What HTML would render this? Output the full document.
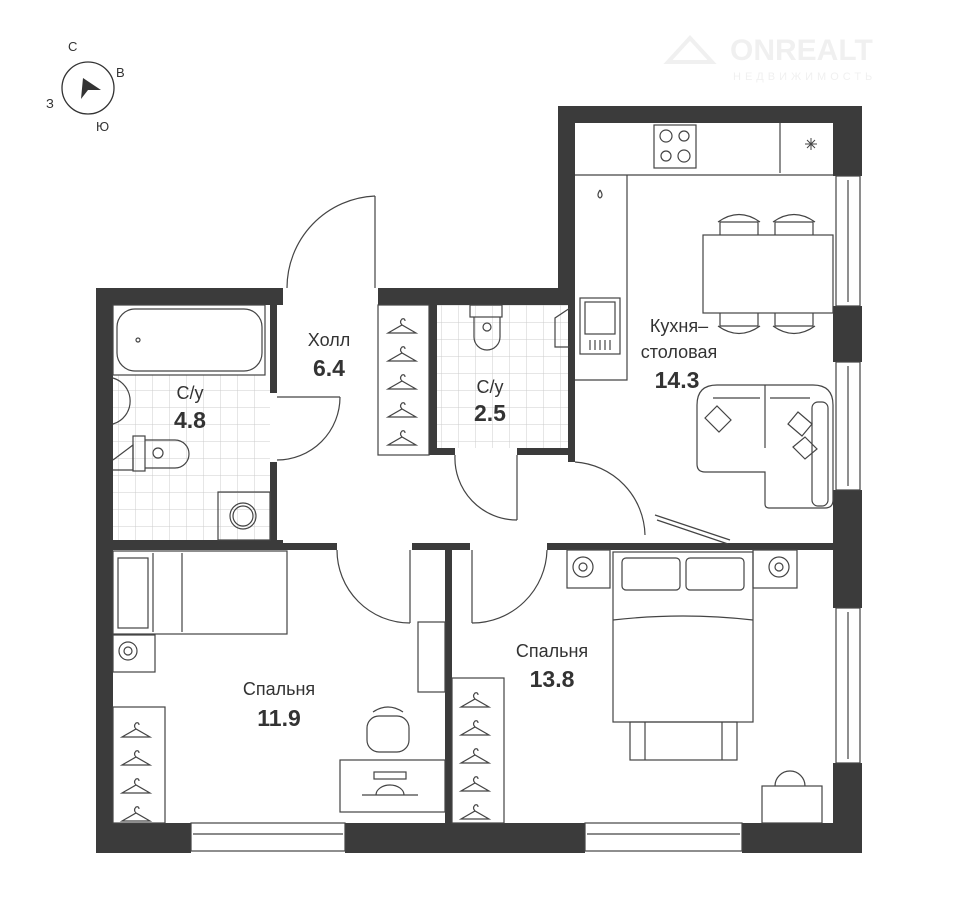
<!DOCTYPE html>
<html><head><meta charset="utf-8"><style>
html,body{margin:0;padding:0;background:#fff;}
svg{display:block;}
text{font-family:"Liberation Sans","DejaVu Sans",sans-serif;fill:#333;}
</style></head><body>
<svg width="960" height="910" viewBox="0 0 960 910" xmlns="http://www.w3.org/2000/svg">
<defs>
<pattern id="tile" width="17" height="17" patternUnits="userSpaceOnUse">
<path d="M17 0V17H0" fill="none" stroke="#ccc" stroke-width="1"/>
</pattern>
<g id="hanger" fill="none" stroke="#444" stroke-width="1.2">
<path d="M0 10 L14 2 L28 10 Z M14 2 q-3 -3 0 -6 q3 -1 3 2"/>
</g>
</defs>

<!-- logo -->
<g opacity="0.14">
<path d="M668 62 L690 38 L712 62 Z" fill="none" stroke="#999" stroke-width="4"/>
<text x="730" y="60" font-size="30" font-weight="bold" style="fill:#999">ONREALT</text>
<text x="733" y="80" font-size="11" letter-spacing="4" style="fill:#999">НЕДВИЖИМОСТЬ</text>
</g>

<!-- compass -->
<circle cx="88" cy="88" r="26" fill="none" stroke="#333" stroke-width="1.3"/>
<polygon points="83,78 101,90 88,90 81,99" fill="#333"/>
<text x="68" y="51" font-size="13">С</text>
<text x="116" y="77" font-size="13">В</text>
<text x="46" y="108" font-size="13">З</text>
<text x="96" y="131" font-size="13">Ю</text>

<!-- tiles -->
<rect x="113" y="375" width="157" height="165" fill="url(#tile)"/>
<rect x="437" y="305" width="133" height="143" fill="url(#tile)"/>

<!-- walls -->
<g fill="#3b3b3b">
<rect x="96" y="288" width="17" height="565"/>
<rect x="96" y="288" width="187" height="17"/>
<rect x="378" y="288" width="195" height="17"/>
<rect x="558" y="106" width="17" height="199"/>
<rect x="558" y="106" width="304" height="17"/>
<rect x="833" y="106" width="29" height="70"/>
<rect x="833" y="306" width="29" height="56"/>
<rect x="833" y="490" width="29" height="118"/>
<rect x="833" y="763" width="29" height="90"/>
<rect x="96" y="823" width="95" height="30"/>
<rect x="345" y="823" width="240" height="30"/>
<rect x="742" y="823" width="120" height="30"/>
<rect x="270" y="305" width="7" height="88"/>
<rect x="270" y="462" width="7" height="86"/>
<rect x="113" y="540" width="170" height="8"/>
<rect x="96" y="543" width="241" height="7"/>
<rect x="412" y="543" width="58" height="7"/>
<rect x="445" y="543" width="7" height="280"/>
<rect x="547" y="543" width="288" height="7"/>
<rect x="429" y="305" width="8" height="150"/>
<rect x="429" y="448" width="26" height="7"/>
<rect x="517" y="448" width="55" height="7"/>
<rect x="568" y="305" width="7" height="157"/>
</g>

<g fill="none" stroke="#444" stroke-width="1.2">
<rect x="836" y="176" width="24" height="130"/><line x1="848" y1="180" x2="848" y2="302"/>
<rect x="836" y="362" width="24" height="128"/><line x1="848" y1="366" x2="848" y2="486"/>
<rect x="836" y="608" width="24" height="155"/><line x1="848" y1="612" x2="848" y2="759"/>
<rect x="191" y="823" width="154" height="28"/><line x1="193" y1="834" x2="343" y2="834"/>
<rect x="585" y="823" width="157" height="28"/><line x1="587" y1="834" x2="740" y2="834"/>

<line x1="375" y1="196" x2="375" y2="288"/><path d="M375 196 A92 92 0 0 0 287 288"/>
<line x1="277" y1="397" x2="340" y2="397"/><path d="M340 397 A63 63 0 0 1 277 460"/>
<line x1="517" y1="455" x2="517" y2="520"/><path d="M517 520 A62 62 0 0 1 455 455"/>
<path d="M575 462 A75 75 0 0 1 645 535"/><line x1="655" y1="515" x2="730" y2="540"/><line x1="657" y1="520" x2="728" y2="544"/>
<line x1="410" y1="550" x2="410" y2="623"/><path d="M337 550 A73 73 0 0 0 410 623"/>
<line x1="472" y1="550" x2="472" y2="623"/><path d="M472 623 A75 75 0 0 0 547 550"/>

<rect x="117" y="309" width="145" height="62" rx="18"/><rect x="113" y="305" width="152" height="70"/>
<circle cx="138" cy="340" r="2"/>
<path d="M113 378 A24 24 0 0 1 113 424"/>
<rect x="133" y="436" width="12" height="35"/><path d="M145 440 h30 a14 14 0 0 1 0 28 h-30"/><circle cx="158" cy="453" r="5"/>
<path d="M113 460 L133 445 V470 L113 470"/>
<rect x="218" y="492" width="52" height="48"/><circle cx="243" cy="516" r="13"/><circle cx="243" cy="516" r="10"/>

<rect x="378" y="305" width="51" height="150"/>

<rect x="470" y="305" width="32" height="12"/><path d="M474 317 v20 a13 13 0 0 0 26 0 v-20"/><circle cx="487" cy="327" r="4"/>
<path d="M570 308 L555 318 V347 H570"/>

<path d="M575 175 H833 M627 175 V380 H575"/>
<line x1="780" y1="123" x2="780" y2="173"/>
<rect x="654" y="125" width="42" height="43"/>
<circle cx="666" cy="136" r="6"/><circle cx="684" cy="136" r="5"/><circle cx="666" cy="156" r="5"/><circle cx="684" cy="156" r="6"/>
<path d="M807 140 l8 8 M815 140 l-8 8 M811 138 v12 M805 144 h12" stroke-width="1"/>
<path d="M600 190 q-4 6 0 8 q4 -2 0 -8"/>
<rect x="580" y="298" width="40" height="56"/><rect x="585" y="302" width="30" height="32"/>
<line x1="590" y1="340" x2="590" y2="350"/><line x1="595" y1="340" x2="595" y2="350"/><line x1="600" y1="340" x2="600" y2="350"/><line x1="605" y1="340" x2="605" y2="350"/><line x1="610" y1="340" x2="610" y2="350"/>
<rect x="703" y="235" width="130" height="78"/>
<path d="M720 235 v-13 h38 v13 M718 222 q21 -15 42 0"/><path d="M775 235 v-13 h38 v13 M773 222 q21 -15 42 0"/>
<path d="M720 313 v13 h38 v-13 M718 326 q21 15 42 0"/><path d="M775 313 v13 h38 v-13 M773 326 q21 15 42 0"/>
<path d="M697 405 q0 -20 20 -20 h96 q20 0 20 20 v95 q0 8 -8 8 h-56 q-4 0 -4 -4 v-32 h-60 q-8 0 -8 -8 z"/>
<line x1="765" y1="385" x2="765" y2="448"/><line x1="713" y1="398" x2="760" y2="398"/><line x1="770" y1="398" x2="810" y2="398"/>
<rect x="812" y="402" width="16" height="104" rx="6"/>
<path d="M705 418 l12 -12 l14 14 l-12 12 z"/><path d="M788 424 l10 -12 l14 12 l-10 12 z"/><path d="M793 447 l12 -10 l12 12 l-12 10 z"/>

<rect x="113" y="551" width="174" height="83"/><rect x="118" y="558" width="30" height="70"/><line x1="153" y1="553" x2="153" y2="632"/><line x1="182" y1="553" x2="182" y2="632"/>
<rect x="113" y="635" width="42" height="37"/><circle cx="128" cy="651" r="9"/><circle cx="128" cy="651" r="4"/>
<rect x="113" y="707" width="52" height="116"/>
<rect x="418" y="622" width="27" height="70"/>
<rect x="340" y="760" width="105" height="52"/><rect x="374" y="772" width="32" height="7"/><path d="M362 795 h56 M376 795 a14 10 0 0 1 28 0"/>
<rect x="367" y="716" width="42" height="36" rx="12"/><path d="M373 712 q15 -10 30 0"/>

<rect x="567" y="550" width="43" height="38"/><circle cx="583" cy="567" r="10"/><circle cx="583" cy="567" r="4"/>
<rect x="753" y="550" width="44" height="38"/><circle cx="779" cy="567" r="10"/><circle cx="779" cy="567" r="4"/>
<rect x="613" y="552" width="140" height="170"/><rect x="622" y="558" width="58" height="32" rx="4"/><rect x="686" y="558" width="58" height="32" rx="4"/>
<path d="M613 620 q70 -8 140 0"/>
<rect x="630" y="722" width="107" height="38"/><line x1="645" y1="722" x2="645" y2="760"/><line x1="722" y1="722" x2="722" y2="760"/>
<rect x="452" y="678" width="52" height="145"/>
<rect x="762" y="786" width="60" height="37"/><path d="M775 786 a15 15 0 0 1 30 0"/>
</g>

<use href="#hanger" x="388" y="323"/><use href="#hanger" x="388" y="351"/><use href="#hanger" x="388" y="379"/><use href="#hanger" x="388" y="407"/><use href="#hanger" x="388" y="435"/>
<use href="#hanger" x="122" y="727"/><use href="#hanger" x="122" y="755"/><use href="#hanger" x="122" y="783"/><use href="#hanger" x="122" y="811"/>
<use href="#hanger" x="461" y="697"/><use href="#hanger" x="461" y="725"/><use href="#hanger" x="461" y="753"/><use href="#hanger" x="461" y="781"/><use href="#hanger" x="461" y="809"/>

<g text-anchor="middle">
<text x="329" y="346" font-size="18">Холл</text>
<text x="329" y="376" font-size="23" font-weight="bold">6.4</text>
<text x="190" y="399" font-size="18">С/у</text>
<text x="190" y="428" font-size="23" font-weight="bold">4.8</text>
<text x="490" y="393" font-size="18">С/у</text>
<text x="490" y="421" font-size="23" font-weight="bold">2.5</text>
<text x="679" y="332" font-size="18">Кухня–</text>
<text x="679" y="358" font-size="18">столовая</text>
<text x="677" y="388" font-size="23" font-weight="bold">14.3</text>
<text x="279" y="695" font-size="18">Спальня</text>
<text x="279" y="726" font-size="23" font-weight="bold">11.9</text>
<text x="552" y="657" font-size="18">Спальня</text>
<text x="552" y="687" font-size="23" font-weight="bold">13.8</text>
</g>
</svg>
</body></html>
